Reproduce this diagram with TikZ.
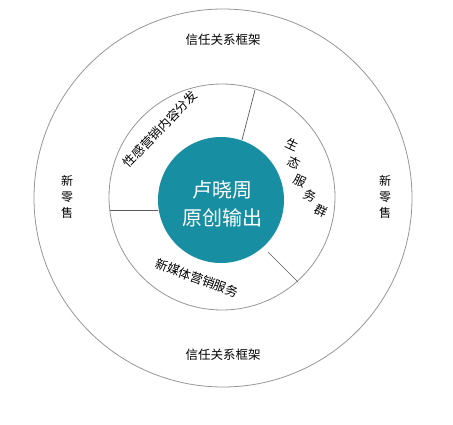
\documentclass[tikz,border=0pt]{standalone}
\usepackage{fontspec}
\setmainfont{Noto Sans CJK SC}
\definecolor{teal1}{RGB}{24,142,163}
\definecolor{ringgray}{RGB}{150,150,150}
\begin{document}
\begin{tikzpicture}[x=1pt,y=-1pt,
  ring/.style={draw=ringgray,line width=0.8pt},
  divider/.style={draw=black!65,line width=0.7pt},
  lbl/.style={font=\fontsize{12.5}{14}\selectfont,text=black,inner sep=0pt},
  vlbl/.style={font=\fontsize{12}{16}\selectfont,text=black,inner sep=0pt,align=center},
  core/.style={font=\fontsize{20}{28}\selectfont,text=white,align=center,inner sep=0pt}]
\useasboundingbox (0,0) rectangle (453,424);
\node[circle,ring,minimum size=378pt,inner sep=0pt] (outer) at (223,198) {};
\node[circle,ring,minimum size=226pt,inner sep=0pt] (middle) at (222,197) {};
\node[circle,fill=teal1,minimum size=126pt,inner sep=0pt] (core) at (221,200) {};
\node[core] (coretext) at (222,204) {卢晓周\\原创输出};
% dividers
\coordinate (d1a) at (255,90);  \coordinate (d1b) at (242,140);
\coordinate (d2a) at (110,210); \coordinate (d2b) at (158,210);
\coordinate (d3a) at (298,282); \coordinate (d3b) at (268,252);
\draw[divider] (d1a) -- (d1b);
\draw[divider] (d2a) -- (d2b);
\draw[divider] (d3a) -- (d3b);
% labels
\node[lbl] (top) at (223,40) {信任关系框架};
\node[lbl] (bottom) at (223,355) {信任关系框架};
\node[vlbl] (left) at (67,197) {新\\零\\售};
\node[vlbl] (right) at (385,197) {新\\零\\售};
\node[lbl,rotate=46] (seg1) at (160,129) {性感营销内容分发};
\node[lbl,rotate=-20] (seg3) at (197,278) {新媒体营销服务};
\node[lbl,rotate=-25] (s1) at (292,145) {生};
\node[lbl,rotate=-25] (s2) at (294,163) {态};
\node[lbl,rotate=-25] (s3) at (300,181) {服};
\node[lbl,rotate=-25] (s4) at (310,196) {务};
\node[lbl,rotate=-25] (s5) at (321,211) {群};
\end{tikzpicture}
\end{document}
